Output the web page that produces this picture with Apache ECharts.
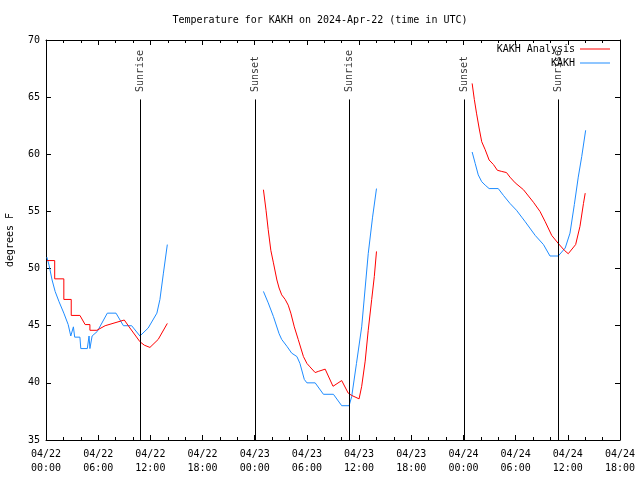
<!DOCTYPE html>
<html>
<head>
<meta charset="utf-8">
<script src="https://cdn.jsdelivr.net/npm/echarts@6/dist/echarts.min.js"></script>
<style>
html,body{margin:0;padding:0;background:#fff;}
#chart{width:640px;height:480px;}
</style>
</head>
<body>
<div id="chart"></div>
<script>
// Hours since 2024-04-22 00:00 UTC; null separates data gaps
const analysisHours = [0.1, 1.0, 1.0, 2.05, 2.05, 2.9, 2.9, 3.9, 4.5, 5.05, 5.05, 5.85, 6.8, 9.0, 9.65, 10.8, 11.3, 11.95, 12.9, 13.95,
  null,
  25.0, 25.3, 25.55, 25.85, 26.15, 26.55, 26.8, 27.1, 27.5, 27.85, 28.15, 28.55, 29.0, 29.6, 30.0, 30.35, 30.95, 31.3, 32.1, 33.0, 34.0, 34.75, 35.15, 36.0, 36.3, 36.7, 37.05, 37.45, 37.75, 38.0,
  null,
  49.0, 49.25, 49.5, 49.8, 50.1, 50.5, 50.95, 51.45, 51.9, 52.4, 52.95, 53.35, 53.95, 54.9, 56.05, 56.8, 57.4, 58.15, 58.9, 59.6, 60.05, 60.9, 61.4, 61.8, 62.0];
const analysisTemps = [50.7, 50.7, 49.1, 49.1, 47.3, 47.3, 45.9, 45.9, 45.1, 45.1, 44.6, 44.6, 45.0, 45.5, 44.8, 43.6, 43.3, 43.1, 43.8, 45.2,
  null,
  56.9, 55.1, 53.4, 51.6, 50.5, 49.0, 48.3, 47.7, 47.3, 46.8, 46.1, 44.9, 43.8, 42.3, 41.7, 41.4, 40.9, 41.0, 41.2, 39.7, 40.2, 39.1, 38.9, 38.6, 39.7, 41.9, 44.6, 47.3, 49.3, 51.5,
  null,
  66.2, 64.8, 63.6, 62.3, 61.1, 60.4, 59.5, 59.1, 58.6, 58.5, 58.4, 58.0, 57.5, 56.9, 55.8, 55.0, 54.1, 52.9, 52.2, 51.6, 51.3, 52.1, 53.7, 55.7, 56.6];

const obsHours = [0.1, 0.35, 0.7, 1.05, 1.5, 2.05, 2.55, 2.85, 3.15, 3.3, 3.9, 4.0, 4.75, 4.95, 5.05, 5.3, 5.9, 7.05, 8.05, 8.9, 9.85, 10.8, 11.75, 12.75, 13.1, 13.5, 13.95,
  null,
  25.0, 25.55, 26.15, 26.8, 27.1, 27.7, 28.25, 28.85, 29.2, 29.7, 30.0, 30.95, 31.9, 33.05, 34.0, 34.85, 35.15, 35.7, 36.3, 37.05, 37.55, 38.0,
  null,
  49.0, 49.35, 49.7, 50.1, 50.5, 50.95, 52.0, 52.6, 53.35, 54.1, 54.7, 55.1, 56.25, 57.2, 57.95, 58.9, 59.7, 60.25, 60.75, 61.2, 61.6, 62.05];
const obsTemps = [51.0, 50.3, 49.0, 48.0, 47.1, 46.1, 45.1, 44.1, 44.9, 44.0, 44.0, 43.0, 43.0, 44.1, 43.0, 44.1, 44.5, 46.1, 46.1, 45.0, 45.0, 44.1, 44.8, 46.1, 47.3, 49.6, 52.1,
  null,
  48.0, 47.0, 45.8, 44.3, 43.8, 43.2, 42.6, 42.3, 41.7, 40.3, 40.0, 40.0, 39.0, 39.0, 38.0, 38.0, 38.8, 41.7, 44.9, 51.3, 54.5, 57.0,
  null,
  60.2, 59.2, 58.2, 57.6, 57.3, 57.0, 57.0, 56.4, 55.7, 55.1, 54.5, 54.1, 52.9, 52.1, 51.1, 51.1, 51.8, 53.1, 55.6, 58.0, 59.8, 62.1];

const sunHours = [10.8, 24.03, 34.84, 48.06, 58.87];
const sunNames = ['Sunrise', 'Sunset', 'Sunrise', 'Sunset', 'Sunrise'];
const sunLineTop = 64.8;
const sunLabelBase = 65.45;

const yTicks = [35, 40, 45, 50, 55, 60, 65, 70];
const seriesNames = ['KAKH Analysis', 'KAKH'];
const seriesColors = ['#ff0000', '#1e8cff'];

const FONT = 'DejaVu Sans Mono';

function pairs(hs, ts) {
  return hs.map((h, i) => (h === null ? ['-', '-'] : [h, ts[i]]));
}
function fmtX(v) {
  const day = 22 + Math.floor(v / 24);
  const hr = v % 24;
  return '04/' + day + '\n' + (hr < 10 ? '0' : '') + hr + ':00';
}

const chart = echarts.init(document.getElementById('chart'), null, {renderer: 'canvas'});
const xCommon = {
  type: 'value', min: 0, max: 66, interval: 6,
  axisLine: {show: true, onZero: false, lineStyle: {color: '#000', width: 1}},
  axisTick: {show: true, inside: true, length: 5, lineStyle: {color: '#000'}},
  minorTick: {show: true, splitNumber: 3, length: 3, lineStyle: {color: '#000'}},
  splitLine: {show: false}
};
const yCommon = {
  type: 'value', min: yTicks[0], max: yTicks[yTicks.length - 1], interval: 5,
  axisLine: {show: true, onZero: false, lineStyle: {color: '#000', width: 1}},
  axisTick: {show: true, inside: true, length: 5, lineStyle: {color: '#000'}},
  splitLine: {show: false}
};
function legendFor(i, top) {
  return {
    data: [{name: seriesNames[i], icon: 'rect', itemStyle: {color: seriesColors[i]}}],
    right: 30, top: top, itemWidth: 30, itemHeight: 1, align: 'right', itemGap: 0, padding: 0,
    textStyle: {fontFamily: FONT, fontSize: 10, color: '#000'}
  };
}

chart.setOption({
  animation: false,
  backgroundColor: '#fff',
  title: {
    text: 'Temperature for KAKH on 2024-Apr-22 (time in UTC)',
    left: 'center', top: 10,
    textStyle: {fontFamily: FONT, fontSize: 10, fontWeight: 'normal', color: '#000'}
  },
  grid: {left: 46, right: 20, top: 40, bottom: 40, containLabel: false, outerBoundsMode: 'none'},
  legend: [legendFor(0, 44), legendFor(1, 58)],
  xAxis: [
    Object.assign({}, xCommon, {position: 'bottom',
      axisLabel: {formatter: fmtX, fontFamily: FONT, fontSize: 10, color: '#000', lineHeight: 14, margin: 7}}),
    Object.assign({}, xCommon, {position: 'top', axisLabel: {show: false}})
  ],
  yAxis: [
    Object.assign({}, yCommon, {position: 'left', name: 'degrees F', nameLocation: 'middle', nameGap: 31, nameRotate: 90,
      nameTextStyle: {fontFamily: FONT, fontSize: 10, color: '#000'},
      axisLabel: {fontFamily: FONT, fontSize: 10, color: '#000', margin: 6}}),
    Object.assign({}, yCommon, {position: 'right', axisLabel: {show: false}})
  ],
  series: [
    {
      name: 'sun', type: 'scatter', symbolSize: 0, silent: true,
      data: sunHours.map((h, i) => ({value: [h, sunLabelBase], name: sunNames[i]})),
      label: {show: true, formatter: p => p.name, position: [0, 0], rotate: 90,
        align: 'left', verticalAlign: 'middle', fontFamily: FONT, fontSize: 10, color: '#000'},
      markLine: {
        silent: true, symbol: ['none', 'none'], animation: false,
        lineStyle: {color: '#000', width: 1, type: 'solid'},
        label: {show: false},
        data: sunHours.map(h => [{coord: [h, sunLineTop]}, {coord: [h, yTicks[0]]}])
      },
      z: 1
    },
    {
      name: seriesNames[0], type: 'line', symbol: 'none', connectNulls: false,
      lineStyle: {color: seriesColors[0], width: 1}, itemStyle: {color: seriesColors[0]},
      data: pairs(analysisHours, analysisTemps), z: 3
    },
    {
      name: seriesNames[1], type: 'line', symbol: 'none', connectNulls: false,
      lineStyle: {color: seriesColors[1], width: 1}, itemStyle: {color: seriesColors[1]},
      data: pairs(obsHours, obsTemps), z: 2
    }
  ]
});
</script>
</body>
</html>
